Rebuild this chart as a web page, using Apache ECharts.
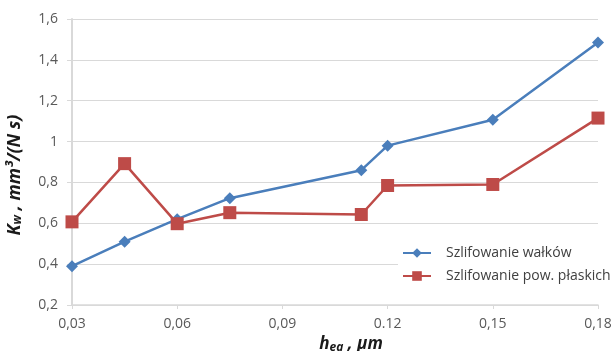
<!DOCTYPE html>
<html>
<head>
<meta charset="utf-8">
<script src="https://cdn.jsdelivr.net/npm/echarts@6/dist/echarts.min.js"></script>
<style>html,body{margin:0;padding:0;background:#fff}#c{width:614px;height:351px}</style>
</head>
<body>
<div id="c"></div>
<script>
const seriesNames = ['Szlifowanie wałków', 'Szlifowanie pow. płaskich'];
const xWalkow = [0.03, 0.045, 0.06, 0.075, 0.1125, 0.12, 0.15, 0.18];
const yWalkow = [0.39, 0.51, 0.62, 0.723, 0.86, 0.98, 1.107, 1.485];
const xPlaskich = [0.03, 0.045, 0.06, 0.075, 0.1125, 0.12, 0.15, 0.18];
const yPlaskich = [0.607, 0.892, 0.598, 0.652, 0.643, 0.785, 0.79, 1.115];
const xTickValues = [0.03, 0.06, 0.09, 0.12, 0.15, 0.18];
const xTickLabels = ['0,03', '0,06', '0,09', '0.12', '0,15', '0,18'];
const yTickValues = [0.2, 0.4, 0.6, 0.8, 1.0, 1.2, 1.4, 1.6];
const yTickLabels = ['0,2', '0,4', '0,6', '0,8', '1', '1,2', '1,4', '1,6'];

function lookup(vals, labels, v) {
  for (let i = 0; i < vals.length; i++) if (Math.abs(vals[i] - v) < 1e-6) return labels[i];
  return '';
}
const font = '"Open Sans", "Liberation Sans", sans-serif';
const titleColor = '#1a1a1a';
const chart = echarts.init(document.getElementById('c'));
chart.setOption({
  animation: false,
  grid: { left: 72, right: 16, top: 19, bottom: 46, containLabel: false, outerBoundsMode: 'none' },
  legend: {
    orient: 'vertical',
    left: 398, top: 244,
    itemWidth: 28, itemHeight: 12, itemGap: 9,
    backgroundColor: '#ffffff',
    padding: [2, 4, 2, 4],
    textStyle: { fontFamily: font, fontSize: 14, color: '#404040', padding: [0, 0, 0, 10] },
    data: seriesNames
  },
  xAxis: {
    type: 'value', min: 0.03, max: 0.18, interval: 0.03,
    name: 'h{sub|eq} , µm',
    nameLocation: 'middle', nameGap: 25,
    nameTextStyle: {
      fontFamily: font, fontSize: 17, fontWeight: 'bold', fontStyle: 'italic', color: titleColor,
      padding: [0, 0, 0, 32],
      rich: { sub: { fontFamily: font, fontSize: 12, fontWeight: 'bold', fontStyle: 'italic', color: titleColor, verticalAlign: 'bottom', padding: [7, 0, 0, 0] } }
    },
    axisLine: { lineStyle: { color: '#d9d9d9', width: 1.5 } },
    axisTick: { show: true, length: 4, lineStyle: { color: '#d9d9d9' } },
    splitLine: { show: false },
    axisLabel: { fontFamily: font, fontSize: 14, color: '#595959', margin: 12,
      formatter: v => lookup(xTickValues, xTickLabels, v) }
  },
  yAxis: {
    type: 'value', min: 0.2, max: 1.6, interval: 0.2,
    name: 'K{sub|w} , mm³/(N s)',
    nameLocation: 'middle', nameGap: 48, nameRotate: 90,
    nameTextStyle: {
      fontFamily: font, fontSize: 18, fontWeight: 'bold', fontStyle: 'italic', color: titleColor,
      padding: [0, 26, 0, 0],
      rich: {
        sub: { fontFamily: font, fontSize: 12, fontWeight: 'bold', fontStyle: 'italic', color: titleColor, padding: [7, 0, 0, 0], verticalAlign: 'bottom' }
      }
    },
    axisLine: { show: true, lineStyle: { color: '#d9d9d9', width: 2 } },
    axisTick: { show: true, length: 5, lineStyle: { color: '#d9d9d9' } },
    splitLine: { lineStyle: { color: '#d9d9d9', width: 1 } },
    axisLabel: { fontFamily: font, fontSize: 14, color: '#595959', margin: 14,
      formatter: v => lookup(yTickValues, yTickLabels, v) }
  },
  series: [
    {
      name: seriesNames[0], type: 'line',
      data: xWalkow.map((x, i) => [x, yWalkow[i]]),
      symbol: 'diamond', symbolSize: 12,
      lineStyle: { color: '#4a7ebb', width: 2.5 },
      itemStyle: { color: '#4a7ebb' }
    },
    {
      name: seriesNames[1], type: 'line',
      data: xPlaskich.map((x, i) => [x, yPlaskich[i]]),
      symbol: 'rect', symbolSize: 13,
      lineStyle: { color: '#be4b48', width: 2.5 },
      itemStyle: { color: '#be4b48' }
    }
  ]
});
</script>
</body>
</html>
